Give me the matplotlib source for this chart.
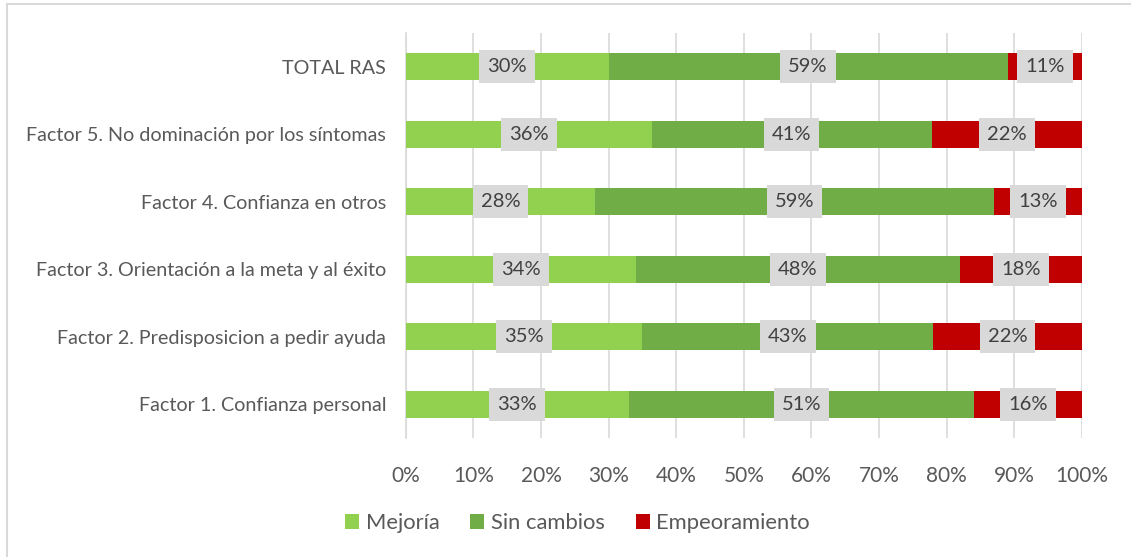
import matplotlib.pyplot as plt
import matplotlib.lines as mlines
import numpy as np

# Datos (porcentajes por factor), de arriba a abajo
categorias = ["TOTAL RAS",
              "Factor 5. No dominación por los síntomas",
              "Factor 4. Confianza en otros",
              "Factor 3. Orientación a la meta y al éxito",
              "Factor 2. Predisposicion a pedir ayuda",
              "Factor 1. Confianza personal"]
mejoria = [30, 36, 28, 34, 35, 33]
sin_cambios = [59, 41, 59, 48, 43, 51]
empeoramiento = [11, 22, 13, 18, 22, 16]
series_nombres = ["Mejoría", "Sin cambios", "Empeoramiento"]
colores = ["#92D050", "#70AD47", "#C00000"]

plt.rcParams['font.family'] = ['Lato', 'DejaVu Sans']
gris = "#595959"

fig = plt.figure(figsize=(11.31, 5.57), dpi=100)
ax = fig.add_axes([0.3587, 0.2136, 0.5980, 0.7272])

datos = np.array([mejoria, sin_cambios, empeoramiento], dtype=float)
# Grafico apilado al 100% (como Excel): normalizar cada fila
frac = datos / datos.sum(axis=0) * 100
y = np.arange(len(categorias))
izq = np.zeros(len(categorias))
for i in range(3):
    ax.barh(y, frac[i], left=izq, height=0.405, color=colores[i],
            label=series_nombres[i], zorder=3)
    for j in range(len(categorias)):
        ax.text(izq[j] + frac[i][j] / 2, y[j], "%d%%" % datos[i][j],
                ha="center", va="center", fontsize=14.5, color="#404040",
                zorder=5,
                bbox=dict(boxstyle="square,pad=0.4", fc="#D9D9D9", ec="none"))
    izq += frac[i]

ax.set_xlim(0, 100)
ax.set_ylim(len(categorias) - 0.5, -0.5)
ax.set_xticks(np.arange(0, 101, 10))
ax.set_xticklabels(["%d%%" % v for v in range(0, 101, 10)])
ax.set_yticks(y)
ax.set_yticklabels(categorias)
ax.tick_params(axis="x", length=0, labelsize=15, colors=gris, pad=20)
ax.tick_params(axis="y", length=0, labelsize=14.2, colors=gris, pad=14)
ax.grid(axis="x", color="#D9D9D9", linewidth=1.2, zorder=0)
for s in ["top", "right", "bottom"]:
    ax.spines[s].set_visible(False)
ax.spines["left"].set_color("#D9D9D9")
ax.spines["left"].set_linewidth(1.2)

fig.legend(loc="center", bbox_to_anchor=(0.5106, 0.061), ncol=3, frameon=False,
           fontsize=15.8, labelcolor=gris, handlelength=0.65, handleheight=0.65,
           handletextpad=0.3, columnspacing=1.4)

# Borde del grafico
fig.add_artist(mlines.Line2D([0.0066, 1.0], [0.9937, 0.9937], color="#D9D9D9",
                             linewidth=1.5, transform=fig.transFigure))
fig.add_artist(mlines.Line2D([0.0066, 0.0066], [0.0, 0.9937], color="#D9D9D9",
                             linewidth=1.5, transform=fig.transFigure))

fig.savefig("out.png", dpi=100)
